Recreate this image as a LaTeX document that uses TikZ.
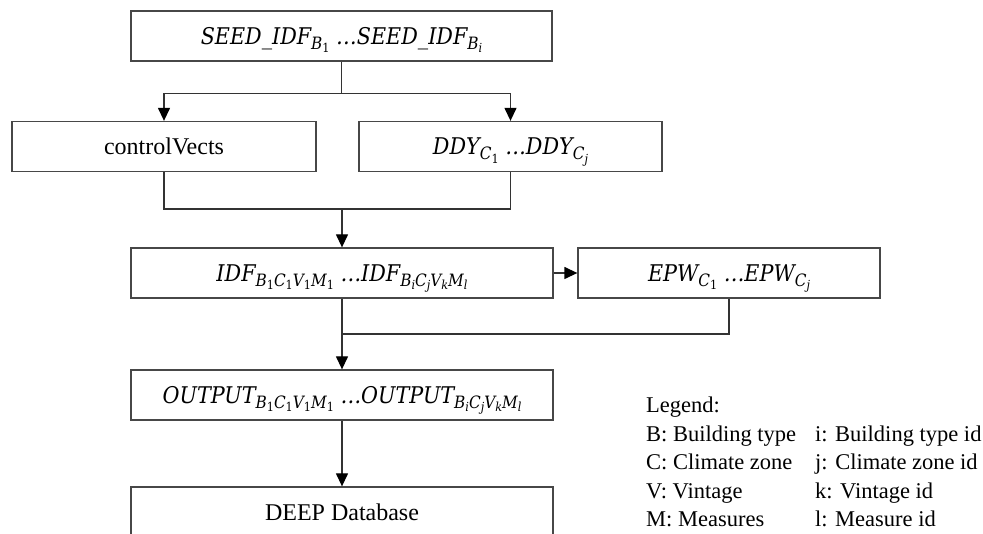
\documentclass[tikz,border=0pt]{standalone}
\usepackage{fontspec}
\setmainfont{Liberation Serif}
\newfontfamily\mathlike[FakeStretch=0.9]{DejaVu Serif}
\usetikzlibrary{arrows.meta}
\newcommand{\Sb}[1]{\raisebox{-5pt}{\fontsize{17}{17}\selectfont #1}}
\newcommand{\Ssb}[1]{\raisebox{-3.5pt}{\fontsize{12.5}{12.5}\selectfont #1}}
\newcommand{\one}{{\upshape 1}}
\tikzset{
  box/.style={draw=black!72, line width=1.3pt, minimum height=50pt, inner sep=0pt,
              font=\fontsize{24}{28}\selectfont},
  mbox/.style={box, text height=17pt, text depth=0pt,
               font=\mathlike\itshape\fontsize{23}{27}\selectfont},
  conn/.style={draw=black!80, line width=1.3pt},
  arr/.style={conn, -{Triangle[length=13pt,width=12pt,color=black]}},
}
\begin{document}
\begin{tikzpicture}[x=1pt,y=-1pt]
\useasboundingbox (0,0) rectangle (983,534);

\node[mbox, minimum width=421pt] (seed) at (341.5,36)
  {SEED\_IDF\Sb{B\Ssb{\one}}\ …SEED\_IDF\Sb{B\Ssb{i}}};
\node[box, minimum width=304pt] (ctrl) at (164,146.5) {controlVects};
\node[mbox, minimum width=303pt] (ddy) at (510.5,146.5)
  {DDY\Sb{C\Ssb{\one}}\ …DDY\Sb{C\Ssb{j}}};
\node[mbox, minimum width=422pt] (idf) at (342,273)
  {IDF\Sb{B\Ssb{\one}C\Ssb{\one}V\Ssb{\one}M\Ssb{\one}}\ …IDF\Sb{B\Ssb{i}C\Ssb{j}V\Ssb{k}M\Ssb{l}}};
\node[mbox, minimum width=302pt] (epw) at (729,273)
  {EPW\Sb{C\Ssb{\one}}\ …EPW\Sb{C\Ssb{j}}};
\node[mbox, minimum width=422pt] (out) at (342,395)
  {OUTPUT\Sb{B\Ssb{\one}C\Ssb{\one}V\Ssb{\one}M\Ssb{\one}}\ …OUTPUT\Sb{B\Ssb{i}C\Ssb{j}V\Ssb{k}M\Ssb{l}}};
\node[box, minimum width=422pt] (deep) at (342,512) {DEEP Database};

\coordinate (j1) at (342,209);
\coordinate (j2) at (342,334);

\draw[arr] (seed.south) -- ++(0,32) -| (ctrl.north);
\draw[arr] (seed.south) -- ++(0,32) -| (ddy.north);
\draw[conn] (ctrl.south) |- (j1) -| (ddy.south);
\draw[arr] (j1) -- (idf.north);
\draw[arr] (idf.east) -- (epw.west);
\draw[conn] (idf.south) -- (j2) -| (epw.south);
\draw[arr] (j2) -- (out.north);
\draw[arr] (out.south) -- (deep.north);

\node[anchor=base west, inner sep=0pt, font=\fontsize{22.5}{28.5}\selectfont] (legend) at (646,413)
  {\begin{tabular}[t]{@{}l@{\hspace{19pt}}l@{}}
   Legend: & \\
   B: Building type & i: Building type id\\
   C: Climate zone & j: Climate zone id\\
   V: Vintage & k: Vintage id\\
   M: Measures & l: Measure id
   \end{tabular}};
\end{tikzpicture}
\end{document}
